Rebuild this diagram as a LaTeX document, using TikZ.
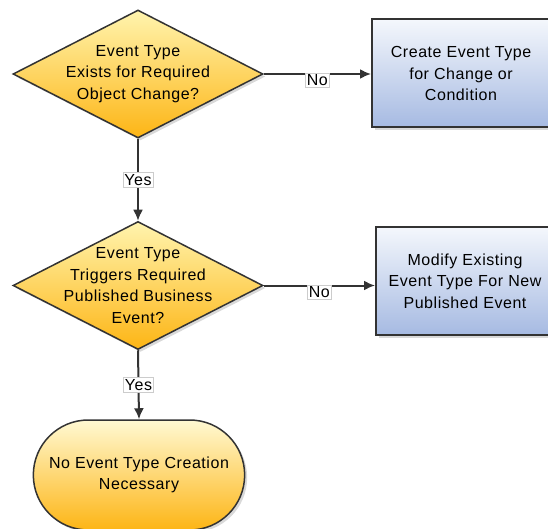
\documentclass[tikz,border=0pt]{standalone}
\usepackage{fontspec}
\setmainfont[LetterSpace=3.5]{Liberation Sans}
\usetikzlibrary{arrows.meta,shapes.geometric,shapes.misc,shadows}
\definecolor{dtop}{HTML}{FFF4AE}
\definecolor{dbot}{HTML}{FDB515}
\definecolor{btop}{HTML}{F4F7FC}
\definecolor{bbot}{HTML}{A6BAE2}
\definecolor{edge}{HTML}{333333}
\tikzset{flow/.style={draw=edge, line width=2pt, -{Latex[length=11pt,width=10pt]}},
  txt/.style={align=center, font=\fontsize{16}{21.5}\selectfont},
  shd/.style={drop shadow={shadow xshift=2.5pt, shadow yshift=-2.5pt, opacity=0.3}},
  dec/.style={diamond, draw=edge, line width=1.5pt, top color=dtop, bottom color=dbot,
    minimum width=250pt, minimum height=128pt, inner sep=0pt, shd},
  act/.style={draw=edge, line width=2pt, top color=btop, bottom color=bbot,
    minimum width=178pt, minimum height=108pt, txt, shd},
  term/.style={rounded rectangle, draw=edge, line width=1.5pt, top color=dtop!55!white,
    bottom color=dbot, minimum width=218pt, minimum height=110pt, txt, shd},
  lbl/.style={fill=white, draw=black!20, line width=0.4pt, inner sep=1.5pt,
    font=\fontsize{16}{18}\selectfont}}

\begin{document}
\begin{tikzpicture}[x=1pt, y=-1pt]
  \path[use as bounding box, clip] (0,0) rectangle (548,529);
  % decisions
  \node[dec] (q1) at (138,74) {};
  \node[txt] (q1t) at (q1) {Event Type\\Exists for Required\\Object Change?};
  \node[dec] (q2) at (138,285.5) {};
  \node[txt] (q2t) at (q2) {Event Type\\Triggers Required\\Published Business\\Event?};
  % actions
  \node[act] (a1) at (461,73.5) {Create Event Type\\for Change or\\Condition};
  \node[act] (a2) at (465,281) {Modify Existing\\Event Type For New\\Published Event};
  % end
  \node[term] (fin) at (139,475) {No Event Type Creation\\Necessary};
  % connectors
  \draw[flow] (q1.south) -- node[lbl]{Yes} (q2.north);
  \draw[flow] (q2.south) -- node[lbl]{Yes} (fin.north);
  \draw[flow] (q1.east) -- node[lbl, yshift=-6pt]{No} (q1.east -| a1.west);
  \draw[flow] (q2.east) -- node[lbl, yshift=-7pt]{No} (q2.east -| a2.west);
\end{tikzpicture}
\end{document}
